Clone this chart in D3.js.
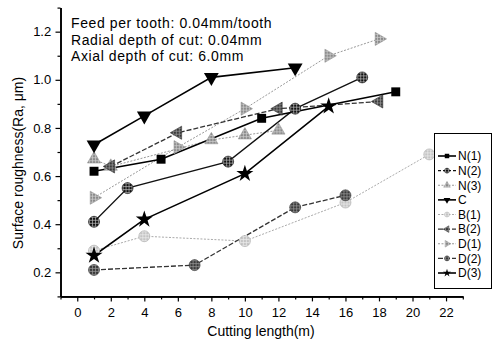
<!DOCTYPE html>
<html>
<head>
<meta charset="utf-8">
<script src="https://cdn.jsdelivr.net/npm/d3@7"></script>
<style>
  html, body { margin: 0; padding: 0; background: #fff; }
  svg { display: block; font-family: "Liberation Sans", Arial, sans-serif; }
</style>
</head>
<body>
<svg id="chart" width="500" height="341"></svg>
<script>
// Cutting length (m) and surface roughness Ra (µm) for each tool
const seriesNames = ["N(1)", "N(2)", "N(3)", "C", "B(1)", "B(2)", "D(1)", "D(2)", "D(3)"];

const lenN1 = [1, 5, 11, 19];
const raN1  = [0.62, 0.67, 0.84, 0.95];

const lenN2 = [1, 3, 9, 13, 17];
const raN2  = [0.41, 0.55, 0.66, 0.88, 1.01];

const lenN3 = [1, 2, 8, 10, 12];
const raN3  = [0.67, 0.64, 0.75, 0.77, 0.79];

const lenC = [1, 4, 8, 13];
const raC  = [0.73, 0.85, 1.01, 1.05];

const lenB1 = [1, 4, 10, 16, 21];
const raB1  = [0.29, 0.35, 0.33, 0.49, 0.69];

const lenB2 = [2, 6, 12, 18];
const raB2  = [0.64, 0.78, 0.88, 0.91];

const lenD1 = [1, 6, 10, 15, 18];
const raD1  = [0.51, 0.72, 0.88, 1.10, 1.17];

const lenD2 = [1, 7, 13, 16];
const raD2  = [0.21, 0.23, 0.47, 0.52];

const lenD3 = [1, 4, 10, 15];
const raD3  = [0.27, 0.42, 0.61, 0.89];

const xMajorTicks = [0, 2, 4, 6, 8, 10, 12, 14, 16, 18, 20, 22];
const xMinorTicks = [-1, 1, 3, 5, 7, 9, 11, 13, 15, 17, 19, 21, 23];
const yMajorTicks = [0.2, 0.4, 0.6, 0.8, 1.0, 1.2];
const yMinorTicks = [0.1, 0.3, 0.5, 0.7, 0.9, 1.1, 1.3];

const noteLines = [
  "Feed per tooth: 0.04mm/tooth",
  "Radial depth of cut: 0.04mm",
  "Axial depth of cut: 6.0mm"
];

const xTitle = "Cutting length(m)";
const yTitle = "Surface roughness(Ra, \u03bcm)";

// ---- styling per series ----
const styles = {
  "N(1)": { shape: "square",   fill: "#000",     line: "#000",  width: 1.6, dash: null,  size: 80 },
  "N(2)": { shape: "circle",   fill: "hatchK",   line: "#111",  width: 1.3, dash: null,  size: 95, legendDash: "3,2" },
  "N(3)": { shape: "triUp",    fill: "hatchG",   line: "#999",  width: 1.0, dash: "2,1.5", size: 75 },
  "C":    { shape: "triDown",  fill: "#000",     line: "#000",  width: 1.6, dash: null,  size: 95 },
  "B(1)": { shape: "circle",   fill: "hatchL",   line: "#aaa",  width: 1.0, dash: "2,1.5", size: 95 },
  "B(2)": { shape: "triLeft",  fill: "hatchD",   line: "#333",  width: 1.3, dash: "5,2", size: 75 },
  "D(1)": { shape: "triRight", fill: "hatchG",   line: "#999",  width: 1.0, dash: "2,1.5", size: 75 },
  "D(2)": { shape: "circle",   fill: "hatchD",   line: "#333",  width: 1.3, dash: "5,2", size: 95 },
  "D(3)": { shape: "star",     fill: "#000",     line: "#000",  width: 1.6, dash: null,  size: 90 }
};

const series = [
  { name: "N(1)", x: lenN1, y: raN1 },
  { name: "N(2)", x: lenN2, y: raN2 },
  { name: "N(3)", x: lenN3, y: raN3 },
  { name: "C",    x: lenC,  y: raC  },
  { name: "B(1)", x: lenB1, y: raB1 },
  { name: "B(2)", x: lenB2, y: raB2 },
  { name: "D(1)", x: lenD1, y: raD1 },
  { name: "D(2)", x: lenD2, y: raD2 },
  { name: "D(3)", x: lenD3, y: raD3 }
].map(s => ({ name: s.name, points: s.x.map((v, i) => ({ x: v, y: s.y[i] })) }));

const svg = d3.select("#chart");

// cross-hatched fills for the patterned markers
const defs = svg.append("defs");
function hatch(id, bg, fg) {
  const p = defs.append("pattern")
    .attr("id", id).attr("patternUnits", "userSpaceOnUse")
    .attr("width", 3).attr("height", 3);
  p.append("rect").attr("width", 3).attr("height", 3).attr("fill", bg);
  p.append("path").attr("d", "M0,1.5H3M1.5,0V3")
    .attr("stroke", fg).attr("stroke-width", 0.7);
}
hatch("hatchK", "#111", "#bbb");
hatch("hatchG", "#8a8a8a", "#d0d0d0");
hatch("hatchL", "#c4c4c4", "#ececec");
hatch("hatchD", "#3a3a3a", "#9a9a9a");
const fillOf = f => f.startsWith("hatch") ? `url(#${f})` : f;

const x = d3.scaleLinear().domain([-1, 23]).range([60.5, 462.8]);
const y = d3.scaleLinear().domain([0.1, 1.3]).range([296.4, 7.6]);

// ---- axes ----
const xAxisMajor = d3.axisBottom(x).tickValues(xMajorTicks).tickSize(5).tickSizeOuter(0)
  .tickFormat(d3.format("d"));
const xAxisMinor = d3.axisBottom(x).tickValues(xMinorTicks).tickSize(3).tickSizeOuter(0)
  .tickFormat("");
const yAxisMajor = d3.axisLeft(y).tickValues(yMajorTicks).tickSize(5).tickSizeOuter(0)
  .tickFormat(d3.format(".1f"));
const yAxisMinor = d3.axisLeft(y).tickValues(yMinorTicks).tickSize(3).tickSizeOuter(0)
  .tickFormat("");

function styleAxis(g) {
  g.select(".domain").attr("stroke", "#000").attr("stroke-width", 1.6);
  g.selectAll(".tick line").attr("stroke", "#000").attr("stroke-width", 1.2);
  g.selectAll(".tick text").attr("fill", "#000").attr("font-size", 13)
    .attr("font-family", "'Liberation Sans', Arial, sans-serif");
}

svg.append("g").attr("transform", `translate(0,${y(0.1)})`).call(xAxisMinor).call(styleAxis);
svg.append("g").attr("transform", `translate(0,${y(0.1)})`).call(xAxisMajor).call(styleAxis)
  .selectAll(".tick text").attr("dy", "0.95em");
svg.append("g").attr("transform", `translate(${x(-1)},0)`).call(yAxisMinor).call(styleAxis);
svg.append("g").attr("transform", `translate(${x(-1)},0)`).call(yAxisMajor).call(styleAxis)
  .selectAll(".tick text").attr("dx", "-0.1em");

// axis titles
svg.append("text")
  .attr("x", 261).attr("y", 336)
  .attr("text-anchor", "middle").attr("font-size", 14)
  .text(xTitle);
svg.append("text")
  .attr("transform", `translate(23,163) rotate(-90)`)
  .attr("text-anchor", "middle").attr("font-size", 14)
  .text(yTitle);

// cutting conditions note
svg.append("g").selectAll("text").data(noteLines).join("text")
  .attr("x", 71).attr("y", (d, i) => 28 + i * 16.5)
  .attr("font-size", 14).attr("letter-spacing", 0.6)
  .text(d => d);

// ---- marker shapes ----
function symbolPath(shape, size) {
  const map = {
    square: d3.symbolSquare, circle: d3.symbolCircle, star: d3.symbolStar,
    triUp: d3.symbolTriangle, triDown: d3.symbolTriangle,
    triLeft: d3.symbolTriangle, triRight: d3.symbolTriangle
  };
  return d3.symbol().type(map[shape]).size(size)();
}
const rotOf = { triDown: 180, triLeft: -90, triRight: 90 };

const line = d3.line().x(d => x(d.x)).y(d => y(d.y));

// draw grey series first so the black ones sit on top
const drawOrder = ["B(1)", "D(1)", "N(3)", "D(2)", "B(2)", "N(2)", "N(1)", "D(3)", "C"];
const plot = svg.append("g");
drawOrder.forEach(name => {
  const s = series.find(d => d.name === name);
  const st = styles[name];
  plot.append("path")
    .attr("d", line(s.points))
    .attr("fill", "none")
    .attr("stroke", st.line)
    .attr("stroke-width", st.width)
    .attr("stroke-dasharray", st.dash);
});
drawOrder.forEach(name => {
  const s = series.find(d => d.name === name);
  const st = styles[name];
  plot.append("g").selectAll("path").data(s.points).join("path")
    .attr("d", symbolPath(st.shape, st.size))
    .attr("transform", d => `translate(${x(d.x)},${y(d.y)}) rotate(${rotOf[st.shape] || 0})`)
    .attr("fill", fillOf(st.fill))
    .attr("stroke", st.fill.startsWith("hatch") ? st.line : "none")
    .attr("stroke-width", 0.6);
});

// ---- legend ----
const legend = svg.append("g");
legend.append("rect")
  .attr("x", 434.5).attr("y", 133.5).attr("width", 57).attr("height", 155)
  .attr("fill", "#fff").attr("stroke", "#000").attr("stroke-width", 1);

const legY = d3.scalePoint().domain(seriesNames).range([156, 273]);
seriesNames.forEach(name => {
  const st = styles[name];
  const ly = legY(name);
  legend.append("line")
    .attr("x1", 438).attr("x2", 456).attr("y1", ly).attr("y2", ly)
    .attr("stroke", st.line).attr("stroke-width", st.width)
    .attr("stroke-dasharray", st.legendDash || st.dash);
  legend.append("path")
    .attr("d", symbolPath(st.shape, 20))
    .attr("transform", `translate(447,${ly}) rotate(${rotOf[st.shape] || 0})`)
    .attr("fill", fillOf(st.fill))
    .attr("stroke", st.fill.startsWith("hatch") ? st.line : "none")
    .attr("stroke-width", 0.4);
  legend.append("text")
    .attr("x", 458).attr("y", ly).attr("dy", "0.36em")
    .attr("font-size", 12)
    .text(name);
});
</script>
</body>
</html>
